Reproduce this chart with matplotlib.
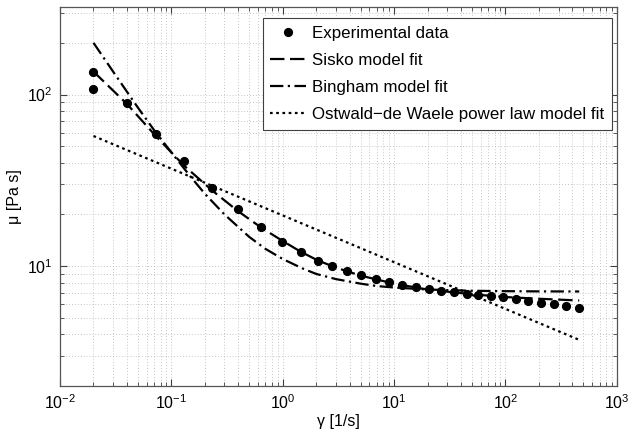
import numpy as np
import matplotlib
matplotlib.use('Agg')
import matplotlib.pyplot as plt

plt.rcParams['font.family'] = ['Liberation Sans', 'DejaVu Sans']
plt.rcParams['mathtext.fontset'] = 'custom'
plt.rcParams['mathtext.rm'] = 'Liberation Sans'
plt.rcParams['mathtext.it'] = 'Liberation Sans:italic'
plt.rcParams['mathtext.default'] = 'regular'

shear_rate = [0.02, 0.02, 0.04, 0.0726, 0.130, 0.234, 0.393, 0.638, 0.987, 1.46, 2.06,
              2.78, 3.79, 5.06, 6.85, 9.1, 11.7, 15.7, 20.7, 26.5, 34.4, 44.8,
              57, 73.6, 95, 123.6, 160.6, 207, 273, 350, 462]
viscosity = [136, 108, 88.7, 58.7, 40.7, 28.5, 21.4, 16.8, 13.9, 12.05, 10.75,
             10.0, 9.4, 8.87, 8.37, 8.08, 7.77, 7.53, 7.33, 7.16, 7.05, 6.92,
             6.74, 6.7, 6.56, 6.44, 6.25, 6.09, 6.0, 5.85, 5.69]

# model curves
sisko_x = [0.02, 0.04, 0.073, 0.13, 0.234, 0.393, 0.638, 1.0, 1.46, 2.06, 3.0, 5.0,
           10, 20, 50, 100, 200, 460]
sisko_y = [136, 88, 57, 38.5, 27.5, 21, 16.8, 14.0, 12.1, 10.8, 9.8, 8.8,
           7.9, 7.3, 6.85, 6.6, 6.45, 6.3]

bingham_x = [0.02, 0.03, 0.05, 0.07, 0.1, 0.15, 0.2, 0.3, 0.5, 0.7, 1.0, 1.5, 2.0,
             3.0, 5.0, 7.0, 10, 20, 50, 100, 200, 460]
bingham_y = [200, 136, 84, 62, 46, 33, 26.4, 20, 14.8, 12.6, 11.0, 9.7, 9.0,
             8.4, 7.9, 7.65, 7.5, 7.3, 7.18, 7.14, 7.12, 7.11]

power_x = [0.02, 453]
power_y = [57.3, 3.73]

fig = plt.figure(figsize=(6.3, 4.37), dpi=100)
ax = fig.add_axes([0.0952, 0.1167, 0.8838, 0.868])

lw = 1.6
ax.plot(shear_rate, viscosity, 'o', color='black', markersize=5.6,
        label='Experimental data', zorder=5)
l1, = ax.plot(sisko_x, sisko_y, color='black', lw=lw, label='Sisko model fit')
l1.set_dashes([6.5, 2.5])
l2, = ax.plot(bingham_x, bingham_y, color='black', lw=lw, label='Bingham model fit')
l2.set_dashes([6, 2, 1, 2])
l3, = ax.plot(power_x, power_y, color='black', lw=lw,
              label='Ostwald\u2212de Waele power law model fit')
l3.set_dashes([1.2, 1.6])

ax.set_xscale('log')
ax.set_yscale('log')
ax.set_xlim(1e-2, 1e3)
ax.set_ylim(2, 325)

ax.grid(True, which='both', linestyle=(0, (1, 2.5)), color='#b4b4b4', linewidth=0.6)
ax.tick_params(which='both', direction='in', top=True, right=True,
               colors='#404040', labelcolor='black', labelsize=11.5)
ax.tick_params(which='major', length=5, pad=5)
ax.tick_params(which='minor', length=3)
for s in ax.spines.values():
    s.set_color('#555555')
    s.set_linewidth(0.9)

ax.set_xlabel('\u03b3 [1/s]', fontsize=11.5, labelpad=2)
ax.set_ylabel('\u03bc [Pa s]', fontsize=11.5, labelpad=4)

leg = ax.legend(loc='upper right', fontsize=12.2, frameon=True, fancybox=False,
                edgecolor='#404040', framealpha=1, handlelength=2.1,
                handletextpad=0.35, borderpad=0.45, labelspacing=0.72,
                borderaxespad=0, bbox_to_anchor=(0.991, 0.970))
leg.get_frame().set_linewidth(0.8)

fig.savefig('out.png', dpi=100)
